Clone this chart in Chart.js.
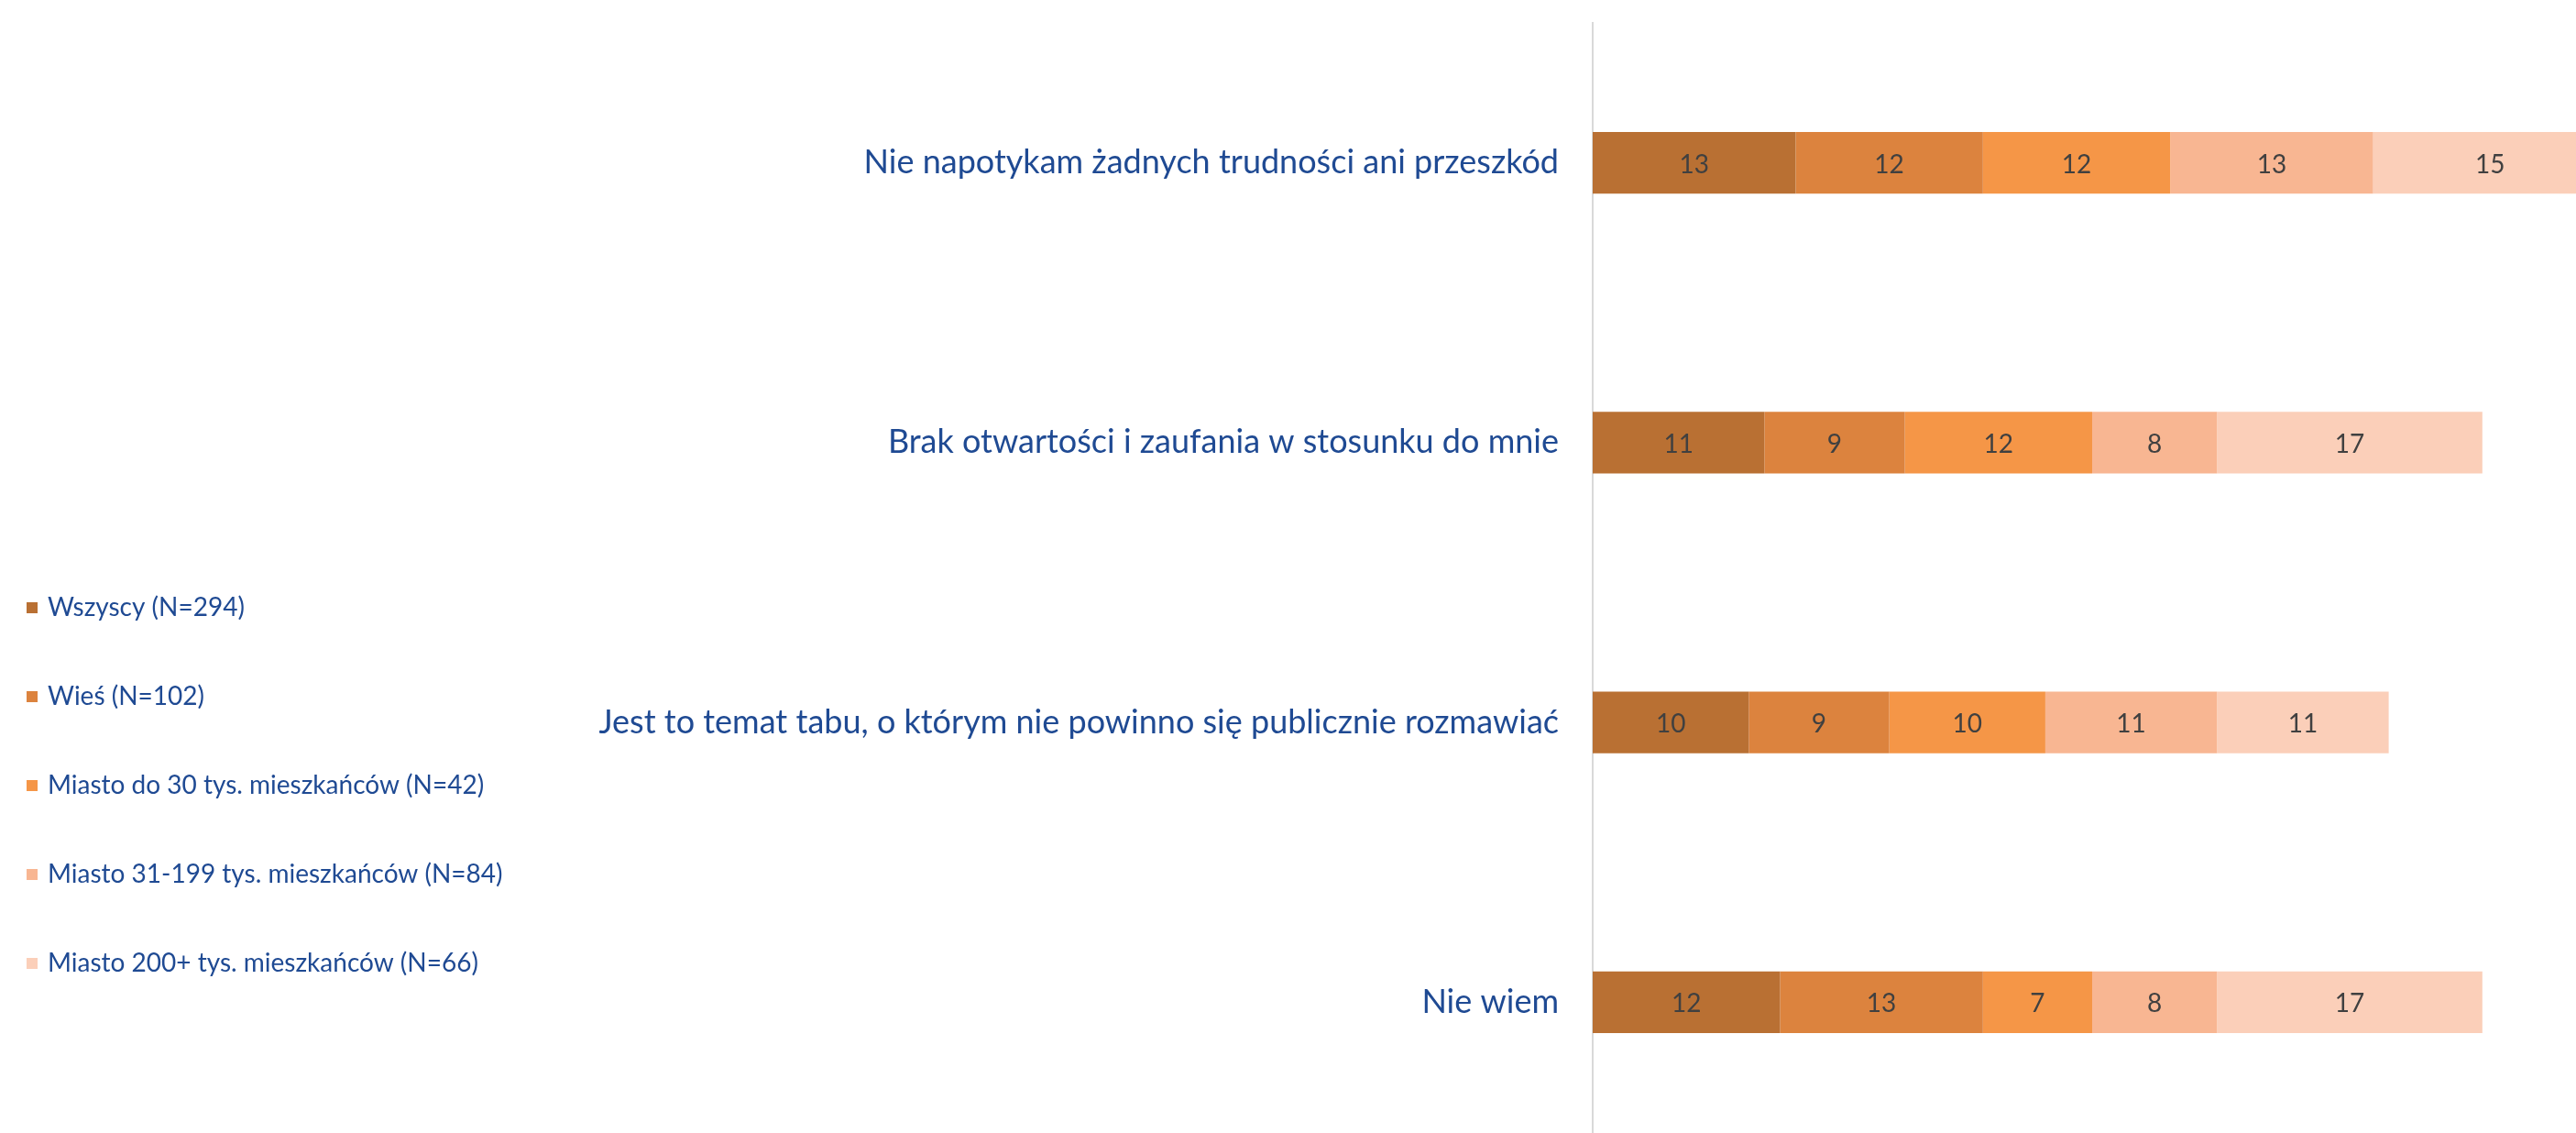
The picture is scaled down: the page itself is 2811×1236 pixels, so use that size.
<!DOCTYPE html>
<html>
<head>
<meta charset="utf-8">
<script src="https://cdn.jsdelivr.net/npm/chart.js@4/dist/chart.umd.min.js"></script>
<style>
  html, body { margin: 0; padding: 0; background: #ffffff; overflow: hidden; }
  #wrap { position: absolute; left: 0; top: 0; width: 2811px; height: 1246px; }
</style>
</head>
<body>
<div id="wrap"><canvas id="c" width="2811" height="1246"></canvas></div>
<script>
const categories = [
  "Nie napotykam żadnych trudności ani przeszkód",
  "Brak otwartości i zaufania w stosunku do mnie",
  "Jest to temat tabu, o którym nie powinno się publicznie rozmawiać",
  "Nie wiem"
];
const seriesNames = [
  "Wszyscy (N=294)",
  "Wieś (N=102)",
  "Miasto do 30 tys. mieszkańców (N=42)",
  "Miasto 31-199 tys. mieszkańców (N=84)",
  "Miasto 200+ tys. mieszkańców (N=66)"
];
const wszyscy = [13, 11, 10, 12];
const wies = [12, 9, 9, 13];
const miasto30 = [12, 12, 10, 7];
const miasto31_199 = [13, 8, 11, 8];
const miasto200 = [15, 17, 11, 17];
const seriesValues = [wszyscy, wies, miasto30, miasto31_199, miasto200];
const seriesColors = ["#B97033", "#DC833E", "#F59647", "#F8B692", "#FBCFB9"];

const TEXT_BLUE = "#1F4A93";
const FONT = "Lato, 'Open Sans', sans-serif";

const datasets = seriesNames.map((name, i) => ({
  label: name,
  data: seriesValues[i],
  backgroundColor: seriesColors[i],
  borderWidth: 0,
  barPercentage: 0.221,
  categoryPercentage: 1.0
}));

const valueLabels = {
  id: 'valueLabels',
  afterDatasetsDraw(chart) {
    const ctx = chart.ctx;
    ctx.save();
    ctx.font = "28px " + FONT;
    ctx.fillStyle = "#404040";
    ctx.textAlign = "center";
    ctx.textBaseline = "middle";
    chart.data.datasets.forEach((ds, di) => {
      const meta = chart.getDatasetMeta(di);
      meta.data.forEach((el, i) => {
        const v = ds.data[i];
        const cx = (el.x + el.base) / 2;
        ctx.fillText(String(v), cx, el.y + 2);
      });
    });
    ctx.restore();
  }
};

const sideLegend = {
  id: 'sideLegend',
  afterDraw(chart) {
    const ctx = chart.ctx;
    ctx.save();
    ctx.font = "28px " + FONT;
    ctx.textAlign = "left";
    ctx.textBaseline = "middle";
    const y0 = 663, step = 97;
    chart.data.datasets.forEach((ds, i) => {
      const y = y0 + i * step;
      ctx.fillStyle = ds.backgroundColor;
      ctx.fillRect(29, y - 6, 12, 12);
      ctx.fillStyle = TEXT_BLUE;
      ctx.fillText(ds.label, 52, y);
    });
    ctx.restore();
  }
};

new Chart(document.getElementById('c'), {
  type: 'bar',
  data: { labels: categories, datasets },
  options: {
    indexAxis: 'y',
    responsive: false,
    animation: false,
    devicePixelRatio: 1,
    layout: { padding: { top: 25, bottom: 0, left: 0, right: 0 } },
    plugins: { legend: { display: false }, tooltip: { enabled: false } },
    scales: {
      x: {
        stacked: true,
        display: false,
        min: 0,
        max: 63
      },
      y: {
        stacked: true,
        grid: { display: false, drawTicks: false },
        border: { display: true, color: "#D9D9D9", width: 2 },
        ticks: {
          color: TEXT_BLUE,
          font: { family: FONT, size: 36 },
          padding: 37
        },
        afterFit(scale) {
          scale.width = 1738;
          scale.paddingTop = 0;
          scale.paddingBottom = 0;
        }
      }
    }
  },
  plugins: [valueLabels, sideLegend]
});
</script>
</body>
</html>
